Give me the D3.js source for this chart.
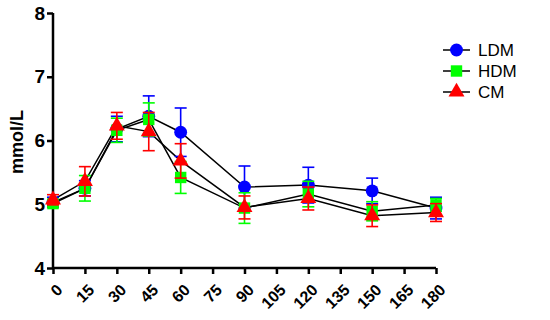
<!DOCTYPE html>
<html>
<head>
<meta charset="utf-8">
<script src="https://cdn.jsdelivr.net/npm/d3@7.9.0/dist/d3.min.js"></script>
<style>
  body { margin: 0; background: #fff; }
  svg { display: block; font-family: "Liberation Sans", Arial, sans-serif; }
</style>
</head>
<body>
<svg id="chart" width="550" height="320"></svg>
<script>
const times = [0, 15, 30, 45, 60, 90, 120, 150, 180];
const xTicks = [0, 15, 30, 45, 60, 75, 90, 105, 120, 135, 150, 165, 180];
const yTicks = [4, 5, 6, 7, 8];

const ldm = [5.03, 5.25, 6.18, 6.38, 6.13, 5.27, 5.30, 5.21, 4.94];
const ldmErr = [0.08, 0.12, 0.2, 0.32, 0.38, 0.33, 0.28, 0.2, 0.17];
const hdm = [5.01, 5.25, 6.16, 6.33, 5.42, 4.94, 5.16, 4.89, 4.99];
const hdmErr = [0.05, 0.2, 0.19, 0.26, 0.25, 0.24, 0.2, 0.15, 0.1];
const cm = [5.07, 5.36, 6.23, 6.14, 5.68, 4.95, 5.09, 4.82, 4.87];
const cmErr = [0.08, 0.23, 0.21, 0.3, 0.27, 0.18, 0.18, 0.17, 0.14];

const series = [
  { name: "LDM", values: ldm, err: ldmErr, color: "#0000ff", symbol: d3.symbolCircle, size: 130 },
  { name: "HDM", values: hdm, err: hdmErr, color: "#00ff00", symbol: d3.symbolSquare, size: 130 },
  { name: "CM", values: cm, err: cmErr, color: "#ff0000", symbol: d3.symbolTriangle, size: 110 },
];

const svg = d3.select("#chart");
const x = d3.scaleLinear().domain([0, 180]).range([53, 436]);
const y = d3.scaleLinear().domain([4, 8]).range([268, 13]);

// axes
const yAxis = svg.append("g")
  .attr("transform", "translate(53,0)")
  .call(d3.axisLeft(y).tickValues(yTicks).tickSize(6).tickSizeOuter(0).tickPadding(2).tickFormat(d3.format("d")));
yAxis.selectAll("text").attr("font-size", 19).attr("font-weight", "bold").attr("fill", "#000");

const xAxis = svg.append("g")
  .attr("transform", "translate(0,268)")
  .call(d3.axisBottom(x).tickValues(xTicks).tickSize(6).tickSizeOuter(0));
xAxis.selectAll("text")
  .attr("font-size", 16).attr("font-weight", "bold").attr("fill", "#000")
  .attr("text-anchor", "end")
  .attr("x", 0).attr("y", 0).attr("dy", "0.35em")
  .attr("transform", "translate(6,19) rotate(-45)");

svg.selectAll(".domain, .tick line").attr("stroke", "#000").attr("stroke-width", 2.5);
yAxis.select(".domain").attr("d", `M0,${y(8)}V${y(4) + 1}`);
xAxis.select(".domain").attr("d", `M${x(0) - 1},0H${x(180)}`);

svg.append("text")
  .attr("transform", "translate(23,142) rotate(-90)")
  .attr("text-anchor", "middle")
  .attr("font-size", 18).attr("font-weight", "bold")
  .text("mmol/L");

// lines
const line = d3.line().x((d, i) => x(times[i])).y((d) => y(d));
series.forEach((s) => {
  svg.append("path")
    .attr("d", line(s.values))
    .attr("fill", "none")
    .attr("stroke", "#000")
    .attr("stroke-width", 1.5);
});

// error bars and markers
series.forEach((s) => {
  const g = svg.append("g").attr("stroke", s.color).attr("stroke-width", 1.6);
  s.values.forEach((v, i) => {
    const cx = x(times[i]);
    const top = y(v + s.err[i]);
    const bot = y(v - s.err[i]);
    g.append("line").attr("x1", cx).attr("x2", cx).attr("y1", top).attr("y2", bot);
    g.append("line").attr("x1", cx - 6).attr("x2", cx + 6).attr("y1", top).attr("y2", top);
    g.append("line").attr("x1", cx - 6).attr("x2", cx + 6).attr("y1", bot).attr("y2", bot);
  });
  svg.append("g").selectAll("path")
    .data(s.values)
    .join("path")
    .attr("d", d3.symbol().type(s.symbol).size(s.size))
    .attr("transform", (d, i) => `translate(${x(times[i])},${y(d)})`)
    .attr("fill", s.color);
});

// legend
const legend = svg.append("g").attr("transform", "translate(443,50)");
series.forEach((s, i) => {
  const row = legend.append("g").attr("transform", `translate(0,${i * 21})`);
  row.append("line").attr("x1", 0).attr("x2", 27).attr("stroke", "#000").attr("stroke-width", 1.5);
  row.append("path")
    .attr("d", d3.symbol().type(s.symbol).size(s.size))
    .attr("transform", "translate(13.5,0)")
    .attr("fill", s.color);
  row.append("text")
    .attr("x", 35).attr("dy", "0.35em")
    .attr("font-size", 17)
    .text(s.name);
});
</script>
</body>
</html>
